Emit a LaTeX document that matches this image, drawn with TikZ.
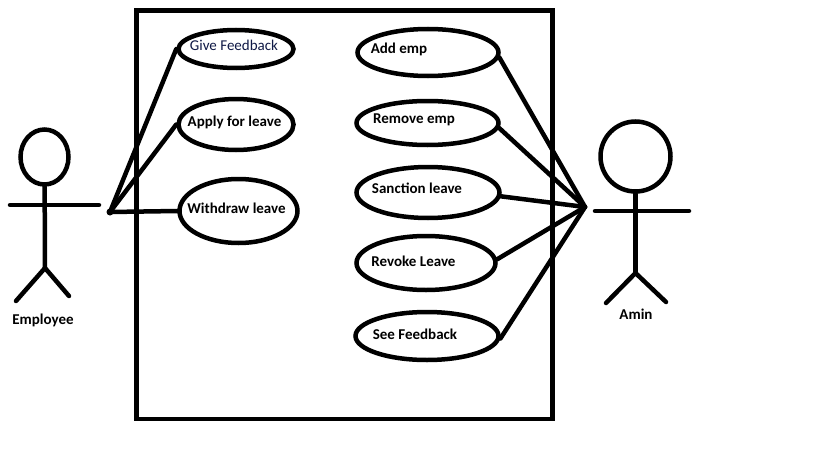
\documentclass[tikz,border=0pt]{standalone}
\usepackage{fontspec}
\setmainfont{Carlito}
\usetikzlibrary{shapes.geometric}
\definecolor{inkblue}{RGB}{15,25,70}
\tikzset{
 usecase/.style={draw, ellipse, line width=4.5pt, inner sep=0pt},
 lbl/.style={font=\fontsize{15}{17}\selectfont\bfseries, text=black, inner sep=0pt},
 head/.style={draw, ellipse, line width=4.5pt, inner sep=0pt},
 wire/.style={line width=4.5pt, line cap=round}
}
\begin{document}
\begin{tikzpicture}[x=1pt, y=-1pt, wire]
\useasboundingbox (0,0) rectangle (819,460);
\fill[white] (0,0) rectangle (819,460);
\draw[line width=4.5pt, line cap=butt] (136.5,10.5) rectangle (552.5,419);

\node[usecase, minimum width=115pt, minimum height=38pt] (give) at (236,49) {};
\node[usecase, minimum width=115pt, minimum height=51pt] (apply) at (236,124.5) {};
\node[usecase, minimum width=118pt, minimum height=64pt] (withdraw) at (238.5,211) {};
\node[usecase, minimum width=141pt, minimum height=47pt] (add) at (428,52.5) {};
\node[usecase, minimum width=142pt, minimum height=44pt] (remove) at (427.5,123) {};
\node[usecase, minimum width=143pt, minimum height=51pt] (sanction) at (428,192.5) {};
\node[usecase, minimum width=139pt, minimum height=54pt] (revoke) at (426,263) {};
\node[usecase, minimum width=143pt, minimum height=48pt] (see) at (427,336) {};

\node[lbl, font=\fontsize{15}{17}\selectfont, text=inkblue] (givetxt) at (234,45) {Give Feedback};
\node[lbl] (applytxt) at (234.5,122) {Apply for leave};
\node[lbl] (withdrawtxt) at (236.5,208) {Withdraw leave};
\node[lbl] (addtxt) at (399,49.5) {Add emp};
\node[lbl] (removetxt) at (414,119.5) {Remove emp};
\node[lbl] (sanctiontxt) at (417,188.5) {Sanction leave};
\node[lbl] (revoketxt) at (413.5,261.5) {Revoke Leave};
\node[lbl] (seetxt) at (415,334.5) {See Feedback};

\coordinate (emphub) at (110,212);
\coordinate (adminhub) at (585,207);
\draw (give.180) -- (emphub);
\draw (apply.180) -- (emphub);
\draw (withdraw.180) -- (emphub);
\draw (add.-4) -- (adminhub);
\draw (remove.-4) -- (adminhub);
\draw (sanction.-3) -- (adminhub);
\draw (revoke.3) -- (adminhub);
\draw (see.-2) -- (adminhub);
\fill (emphub) circle (3.5pt);

\node[head, minimum width=48pt, minimum height=55pt] (emphead) at (44.5,157) {};
\coordinate (empl) at (10,205);
\coordinate (empr) at (99,205);
\coordinate (empc) at (45,268);
\coordinate (empfl) at (16,301);
\coordinate (empfr) at (69,296);
\draw (empl) -- (empr);
\draw (emphead) -- (empc);
\draw (empfl) -- (empc) -- (empfr);
\node[lbl] (emptxt) at (43,320) {Employee};

\node[head, minimum width=70pt, minimum height=70pt] (adminhead) at (635.5,156.5) {};
\coordinate (adminl) at (595,211);
\coordinate (adminr) at (689,211);
\coordinate (adminc) at (635.5,273);
\coordinate (adminfl) at (606,303);
\coordinate (adminfr) at (666,302);
\draw (adminl) -- (adminr);
\draw (adminhead) -- (adminc);
\draw (adminfl) -- (adminc) -- (adminfr);
\node[lbl] (admintxt) at (636,314) {Amin};
\end{tikzpicture}
\end{document}
